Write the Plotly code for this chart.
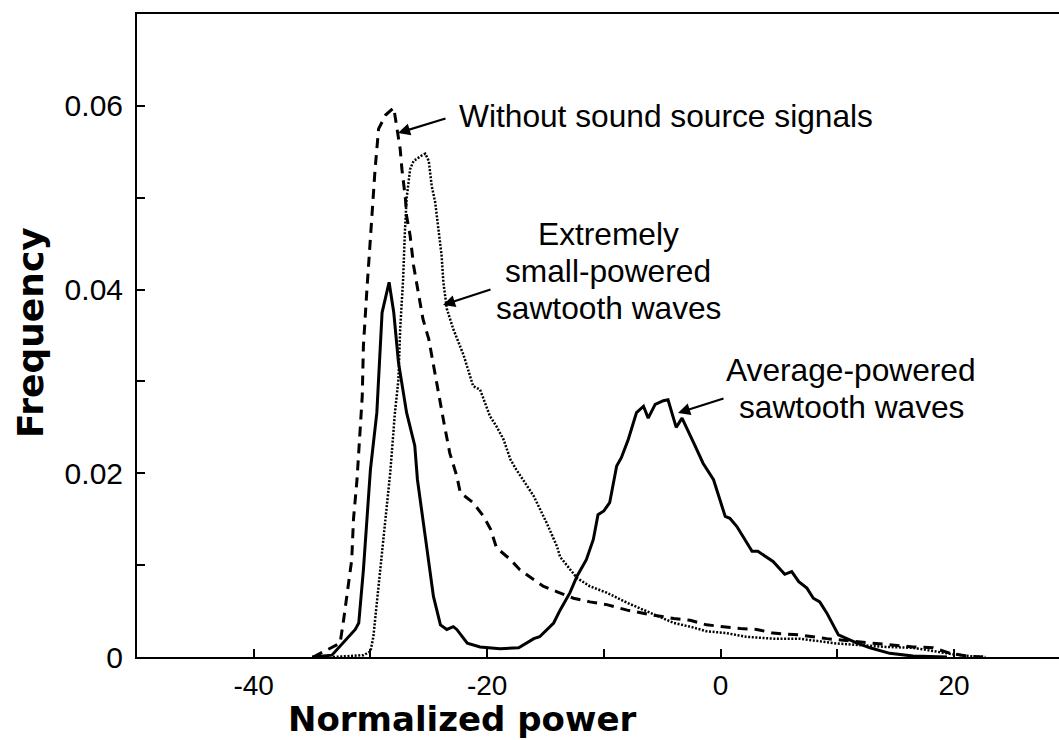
import plotly.graph_objects as go

# ---------------- data ----------------
avg_x = [-35.0, -33.3, -31.3, -31.0, -30.6, -30.0, -29.45, -29.0, -28.4, -28.0, -27.6, -26.9, -26.2,
         -25.97, -25.3, -24.6, -24.0, -23.45, -22.9, -22.6, -21.7, -20.6, -18.9, -17.3, -16.0, -15.5,
         -14.3, -13.75, -12.9, -12.3, -11.5, -10.9, -10.5, -10.0, -9.5, -8.9, -8.5, -7.9, -7.2, -6.6,
         -6.2, -5.6, -4.9, -4.5, -3.8, -3.3, -2.3, -1.5, -0.6, 0.4, 0.8, 1.4, 2.7, 3.2, 4.5, 5.5, 6.1,
         6.7, 7.4, 7.95, 8.5, 9.1, 10.1, 10.8, 11.7, 12.8, 14.5, 16.5, 19.4]
avg_y = [0, 0.0002, 0.0030, 0.0037, 0.0095, 0.0204, 0.0266, 0.0375, 0.0408, 0.0375, 0.0321, 0.0266,
         0.0230, 0.0193, 0.0131, 0.0066, 0.0035, 0.0030, 0.0033, 0.0030, 0.0015, 0.0011, 0.0009, 0.0010,
         0.0020, 0.0022, 0.0037, 0.0051, 0.0070, 0.0088, 0.0106, 0.0128, 0.0155, 0.0159, 0.0168, 0.0208,
         0.0217, 0.0237, 0.0266, 0.0273, 0.0260, 0.0275, 0.0279, 0.0280, 0.0250, 0.0260, 0.0233, 0.0211,
         0.0193, 0.0153, 0.0151, 0.0142, 0.0115, 0.0115, 0.0104, 0.0090, 0.0093, 0.0082, 0.0075, 0.0064,
         0.0060, 0.0048, 0.0024, 0.0020, 0.0015, 0.0010, 0.0004, 0.0001, 0]

none_x = [-34.9, -32.6, -32.3, -32.0, -31.6, -31.45, -31.15, -30.7, -30.6, -30.3, -29.9, -29.6, -29.3,
          -28.7, -28.0, -27.7, -27.45, -27.3, -27.0, -26.9, -26.6, -26.3, -26.0, -25.5, -25.0, -24.6,
          -24.2, -23.7, -23.2, -22.6, -22.3, -21.2, -20.3, -19.7, -19.2, -18.0, -17.2, -16.0, -15.2,
          -14.0, -12.6, -11.2, -9.75, -8.0, -6.0, -4.0, -2.6, -1.2, 0.2, 1.7, 3.1, 4.5, 6.8, 9.1, 11.4,
          13.1, 14.8, 16.5, 18.2, 19.7, 21.1, 22.5]
none_y = [0, 0.0015, 0.0040, 0.0066, 0.0106, 0.0150, 0.0193, 0.0284, 0.0339, 0.0400, 0.0480, 0.0531,
          0.0575, 0.0590, 0.0598, 0.0573, 0.0553, 0.0531, 0.0499, 0.0480, 0.0459, 0.0426, 0.0404, 0.0368,
          0.0346, 0.0317, 0.0288, 0.0255, 0.0222, 0.0197, 0.0179, 0.0168, 0.0153, 0.0139, 0.0119, 0.0106,
          0.0095, 0.0084, 0.0077, 0.0071, 0.0064, 0.0060, 0.0057, 0.0051, 0.0046, 0.0042, 0.0040, 0.0035,
          0.0033, 0.0031, 0.0030, 0.0026, 0.0024, 0.0020, 0.0017, 0.0015, 0.0013, 0.0011, 0.0010, 0.0004,
          0.0001, 0]

small_x = [-33.2, -30.6, -30.0, -29.75, -29.45, -29.15, -28.75, -28.3, -27.9, -27.6, -27.45, -27.2,
           -27.05, -26.9, -26.6, -26.3, -25.6, -25.3, -25.0, -24.75, -24.45, -24.15, -23.9, -23.75,
           -23.45, -22.9, -22.0, -21.2, -20.6, -19.75, -19.2, -18.6, -18.0, -17.5, -16.0, -14.9, -14.0,
           -13.75, -12.9, -12.3, -11.2, -9.75, -8.0, -6.0, -4.0, -2.6, -1.2, 0.5, 2.2, 4.5, 6.8, 9.7,
           12.0, 14.2, 16.5, 18.5, 19.9, 21.4, 22.7]
small_y = [0, 0.0002, 0.0006, 0.0022, 0.0059, 0.0095, 0.0150, 0.0201, 0.0266, 0.0302, 0.0357, 0.0411,
           0.0462, 0.0499, 0.0531, 0.0540, 0.0546, 0.0548, 0.0540, 0.0513, 0.0495, 0.0466, 0.0437, 0.0408,
           0.0379, 0.0357, 0.0328, 0.0295, 0.0291, 0.0262, 0.0251, 0.0237, 0.0215, 0.0204, 0.0175, 0.0146,
           0.0120, 0.0109, 0.0095, 0.0086, 0.0077, 0.0070, 0.0059, 0.0048, 0.0037, 0.0033, 0.0028, 0.0026,
           0.0022, 0.0020, 0.0020, 0.0015, 0.0013, 0.0011, 0.0010, 0.0006, 0.0003, 0.0001, 0]

x_tickvals = [-40, -30, -20, -10, 0, 10, 20]
x_ticktext = ["-40", "", "-20", "", "0", "", "20"]
y_tickvals = [0, 0.01, 0.02, 0.03, 0.04, 0.05, 0.06]
y_ticktext = ["0", "", "0.02", "", "0.04", "", "0.06"]

# ---------------- layout geometry ----------------
W, H = 1059, 740
L, T, B = 137, 14, 83
PW, PH = W - L, H - T - B


def px_x(p):
    return (p - L) / PW


def px_y(p):
    return (H - B - p) / PH


ARIAL = "Liberation Sans, Arial, sans-serif"
BOLD = "DejaVu Sans, Arial Black, sans-serif"

fig = go.Figure()
fig.add_trace(go.Scatter(x=small_x, y=small_y, mode="lines",
                         line=dict(color="black", width=2.5, dash="2px,1.6px"),
                         name="Extremely small-powered sawtooth waves"))
fig.add_trace(go.Scatter(x=none_x, y=none_y, mode="lines",
                         line=dict(color="black", width=3, dash="10px,7px"),
                         name="Without sound source signals"))
fig.add_trace(go.Scatter(x=avg_x, y=avg_y, mode="lines",
                         line=dict(color="black", width=3),
                         name="Average-powered sawtooth waves"))

annotations = []
# texts
texts = [
    ("Without sound source signals", 457, 116, "left"),
    ("Extremely", 608, 234, "center"),
    ("small-powered", 608, 271, "center"),
    ("sawtooth waves", 608, 308, "center"),
    ("Average-powered", 851, 370, "center"),
    ("sawtooth waves", 851, 407, "center"),
]
for t, xp, yp, anc in texts:
    annotations.append(dict(text=t, xref="paper", yref="paper", x=px_x(xp), y=px_y(yp),
                            xanchor=anc, yanchor="middle", showarrow=False,
                            font=dict(family=ARIAL, size=31.7, color="black")))
# arrows (head px, tail px)
arrows = [((398, 133), (447, 118)), ((443, 305), (492, 289)), ((678, 413), (725, 398))]
for (hx, hy), (tx, ty) in arrows:
    annotations.append(dict(text="", xref="paper", yref="paper", x=px_x(hx), y=px_y(hy),
                            ax=tx - hx, ay=ty - hy, showarrow=True, arrowhead=2,
                            arrowsize=1.1, arrowwidth=2.2, arrowcolor="black", standoff=0))
# axis titles
annotations.append(dict(text="<b>Normalized power</b>", xref="paper", yref="paper",
                        x=px_x(462), y=px_y(719), xanchor="center", yanchor="middle",
                        showarrow=False, font=dict(family=BOLD, size=34, color="black")))
annotations.append(dict(text="<b>Frequency</b>", xref="paper", yref="paper",
                        x=px_x(30), y=px_y(333), xanchor="center", yanchor="middle",
                        textangle=-90, showarrow=False,
                        font=dict(family=BOLD, size=36, color="black")))

fig.update_layout(
    width=W, height=H,
    margin=dict(l=L, r=0, t=T, b=B, pad=0),
    paper_bgcolor="white", plot_bgcolor="white",
    showlegend=False,
    annotations=annotations,
    xaxis=dict(range=[-50, 29.0], showline=True, linecolor="black", linewidth=2, mirror=True,
               ticks="inside", ticklen=8, tickwidth=2, tickcolor="black",
               tickvals=x_tickvals, ticktext=x_ticktext, ticklabelstandoff=2,
               tickfont=dict(family=ARIAL, size=28, color="black"),
               showgrid=False, zeroline=False),
    yaxis=dict(range=[0, 0.07], showline=True, linecolor="black", linewidth=2, mirror=False,
               ticks="inside", ticklen=8, tickwidth=2, tickcolor="black",
               tickvals=y_tickvals, ticktext=y_ticktext, ticklabelstandoff=6,
               tickfont=dict(family=ARIAL, size=30, color="black"),
               showgrid=False, zeroline=False),
)

fig.write_html("out.html")
